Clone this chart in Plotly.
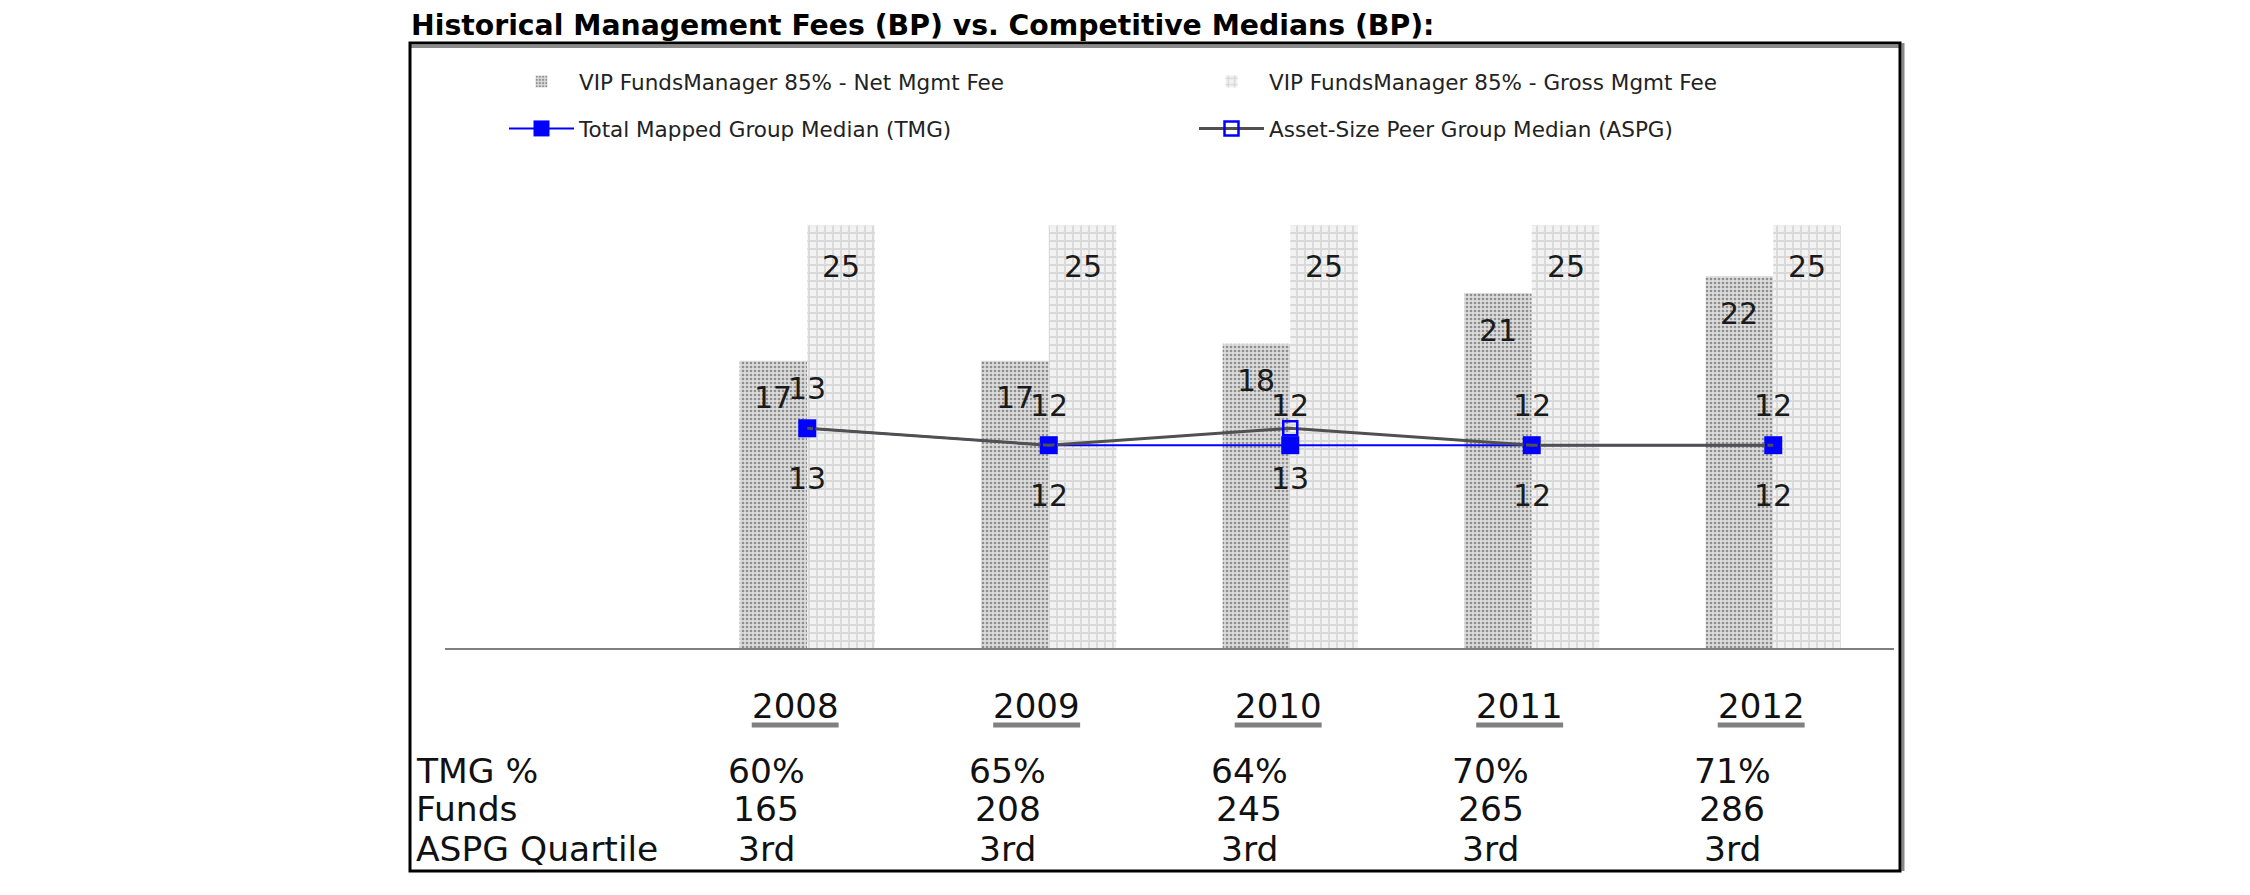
import plotly.graph_objects as go

# ---------------- data ----------------
years = ["2008", "2009", "2010", "2011", "2012"]
net_fee = [17, 17, 18, 21, 22]
gross_fee = [25, 25, 25, 25, 25]
tmg_median = [13, 12, 12, 12, 12]
aspg_median = [13, 12, 13, 12, 12]
row_labels = ["TMG %", "Funds", "ASPG Quartile"]
tmg_pct = ["60%", "65%", "64%", "70%", "71%"]
funds = ["165", "208", "245", "265", "286"]
aspg_quartile = ["3rd", "3rd", "3rd", "3rd", "3rd"]
title_text = "Historical Management Fees (BP) vs. Competitive Medians (BP):"

# ---------------- geometry helpers ----------------
W, H = 2250, 895
SHIFT = 8                               # page body margin compensation
PL, PR, PT, PB = 445, 1894, 141, 648   # plot area in target pixels


def px_x(p):
    return (p - PL) / (PR - PL)


def px_y(p):
    return (PB - p) / (PB - PT)


FONT = "Verdana, DejaVu Sans, sans-serif"
BAR_HALF = 0.14

fig = go.Figure()

fig.add_trace(go.Bar(
    x=years, y=net_fee, name="VIP FundsManager 85% - Net Mgmt Fee",
    marker=dict(color="#dcdcdc", line=dict(width=0),
                pattern=dict(shape=".", fgcolor="#404040", bgcolor="#dcdcdc",
                             size=4, solidity=0.35)),
    legend="legend", legendgroup="a", hoverinfo="skip"))
fig.add_trace(go.Bar(
    x=years, y=gross_fee, name="VIP FundsManager 85% - Gross Mgmt Fee",
    marker=dict(color="#f2f2f2", line=dict(width=0),
                pattern=dict(shape="+", fgcolor="#bdbdbd", bgcolor="#f2f2f2",
                             size=8, solidity=0.4)),
    legend="legend2", legendgroup="b", hoverinfo="skip"))
fig.add_trace(go.Scatter(
    x=years, y=tmg_median, name="Total Mapped Group Median (TMG)",
    mode="lines+markers",
    line=dict(color="#0000ff", width=2),
    marker=dict(symbol="square", size=18, color="#0000ff"),
    legend="legend", legendgroup="c", hoverinfo="skip"))
fig.add_trace(go.Scatter(
    x=years, y=aspg_median, name="Asset-Size Peer Group Median (ASPG)",
    mode="lines+markers",
    line=dict(color="#505050", width=3),
    marker=dict(symbol="square-open", size=14, color="#0000ff",
                line=dict(width=2.5, color="#0000ff")),
    legend="legend2", legendgroup="d", hoverinfo="skip"))

annotations = []
lab_font = dict(family=FONT, size=30, color="#1a1a1a")
for i in range(len(years)):
    annotations.append(dict(x=i - BAR_HALF, y=net_fee[i], xref="x", yref="y",
                            text=str(net_fee[i]), showarrow=False, yshift=-37,
                            yanchor="middle", font=lab_font))
    annotations.append(dict(x=i + BAR_HALF, y=gross_fee[i], xref="x", yref="y",
                            text=str(gross_fee[i]), showarrow=False, yshift=-41,
                            yanchor="middle", font=lab_font))
    annotations.append(dict(x=i, y=tmg_median[i], xref="x", yref="y",
                            text=str(tmg_median[i]), showarrow=False, yshift=40,
                            yanchor="middle", font=lab_font))
    annotations.append(dict(x=i, y=aspg_median[i], xref="x", yref="y",
                            text=str(aspg_median[i]), showarrow=False, yshift=-50,
                            yanchor="middle", font=lab_font))

# table below the chart
HEAD_OFF = -0.05
VAL_OFF = -0.17
tab_font = dict(family=FONT, size=34.5, color="#111111")
row_y = [px_y(771), px_y(809), px_y(849)]
shapes = []
for i, yr in enumerate(years):
    annotations.append(dict(x=i + HEAD_OFF, y=px_y(706), xref="x", yref="paper",
                            xanchor="center", yanchor="middle",
                            text=yr, showarrow=False,
                            font=dict(family=FONT, size=34, color="#111111")))
    shapes.append(dict(type="line", xref="x", yref="paper",
                       x0=i + HEAD_OFF - 0.18, x1=i + HEAD_OFF + 0.18,
                       y0=px_y(725), y1=px_y(725),
                       line=dict(color="#808080", width=5)))
    for r, vals in enumerate([tmg_pct, funds, aspg_quartile]):
        annotations.append(dict(x=i + VAL_OFF, y=row_y[r], xref="x", yref="paper",
                                xanchor="center", yanchor="middle",
                                text=vals[i], showarrow=False, font=tab_font))
for r, lab in enumerate(row_labels):
    annotations.append(dict(x=px_x(414), y=row_y[r], xref="paper", yref="paper",
                            xanchor="left", yanchor="middle", text=lab,
                            showarrow=False, font=tab_font))

annotations.append(dict(x=px_x(409), y=px_y(26), xref="paper", yref="paper",
                        xanchor="left", yanchor="middle", text="<b>" + title_text + "</b>",
                        showarrow=False, font=dict(family=FONT, size=28.3, color="#000000")))

# outer box
bx0, bx1, by0, by1 = px_x(410), px_x(1900), px_y(871), px_y(43)
shapes += [
    dict(type="line", xref="paper", yref="paper", x0=bx0, x1=bx1, y0=px_y(46.5), y1=px_y(46.5),
         line=dict(color="#8a8a8a", width=3)),
    dict(type="line", xref="paper", yref="paper", x0=px_x(1903), x1=px_x(1903), y0=by0, y1=by1,
         line=dict(color="#8a8a8a", width=3)),
    dict(type="rect", xref="paper", yref="paper", x0=bx0, x1=bx1, y0=by0, y1=by1,
         line=dict(color="#000000", width=3)),
]

leg_common = dict(font=dict(family=FONT, size=21.5, color="#222222"),
                  itemwidth=65, tracegroupgap=16, bgcolor="rgba(0,0,0,0)",
                  traceorder="grouped", yanchor="top", xanchor="left")

fig.update_layout(
    width=W, height=H,
    margin=dict(l=PL - SHIFT, r=W - PR + SHIFT, t=PT - SHIFT, b=H - PB + SHIFT, pad=0),
    paper_bgcolor="#ffffff", plot_bgcolor="#ffffff",
    barmode="group", bargap=0.44, bargroupgap=0,
    xaxis=dict(type="category", range=[-1.5, 4.5], showticklabels=False,
               showgrid=False, zeroline=False, showline=True,
               linecolor="#808080", linewidth=2, ticks=""),
    yaxis=dict(range=[0, 30], visible=False, showgrid=False, zeroline=False),
    legend=dict(x=px_x(504), y=px_y(61), **leg_common),
    legend2=dict(x=px_x(1194), y=px_y(61), **leg_common),
    annotations=annotations,
    shapes=shapes,
    showlegend=True,
)

fig.write_html("out.html")
